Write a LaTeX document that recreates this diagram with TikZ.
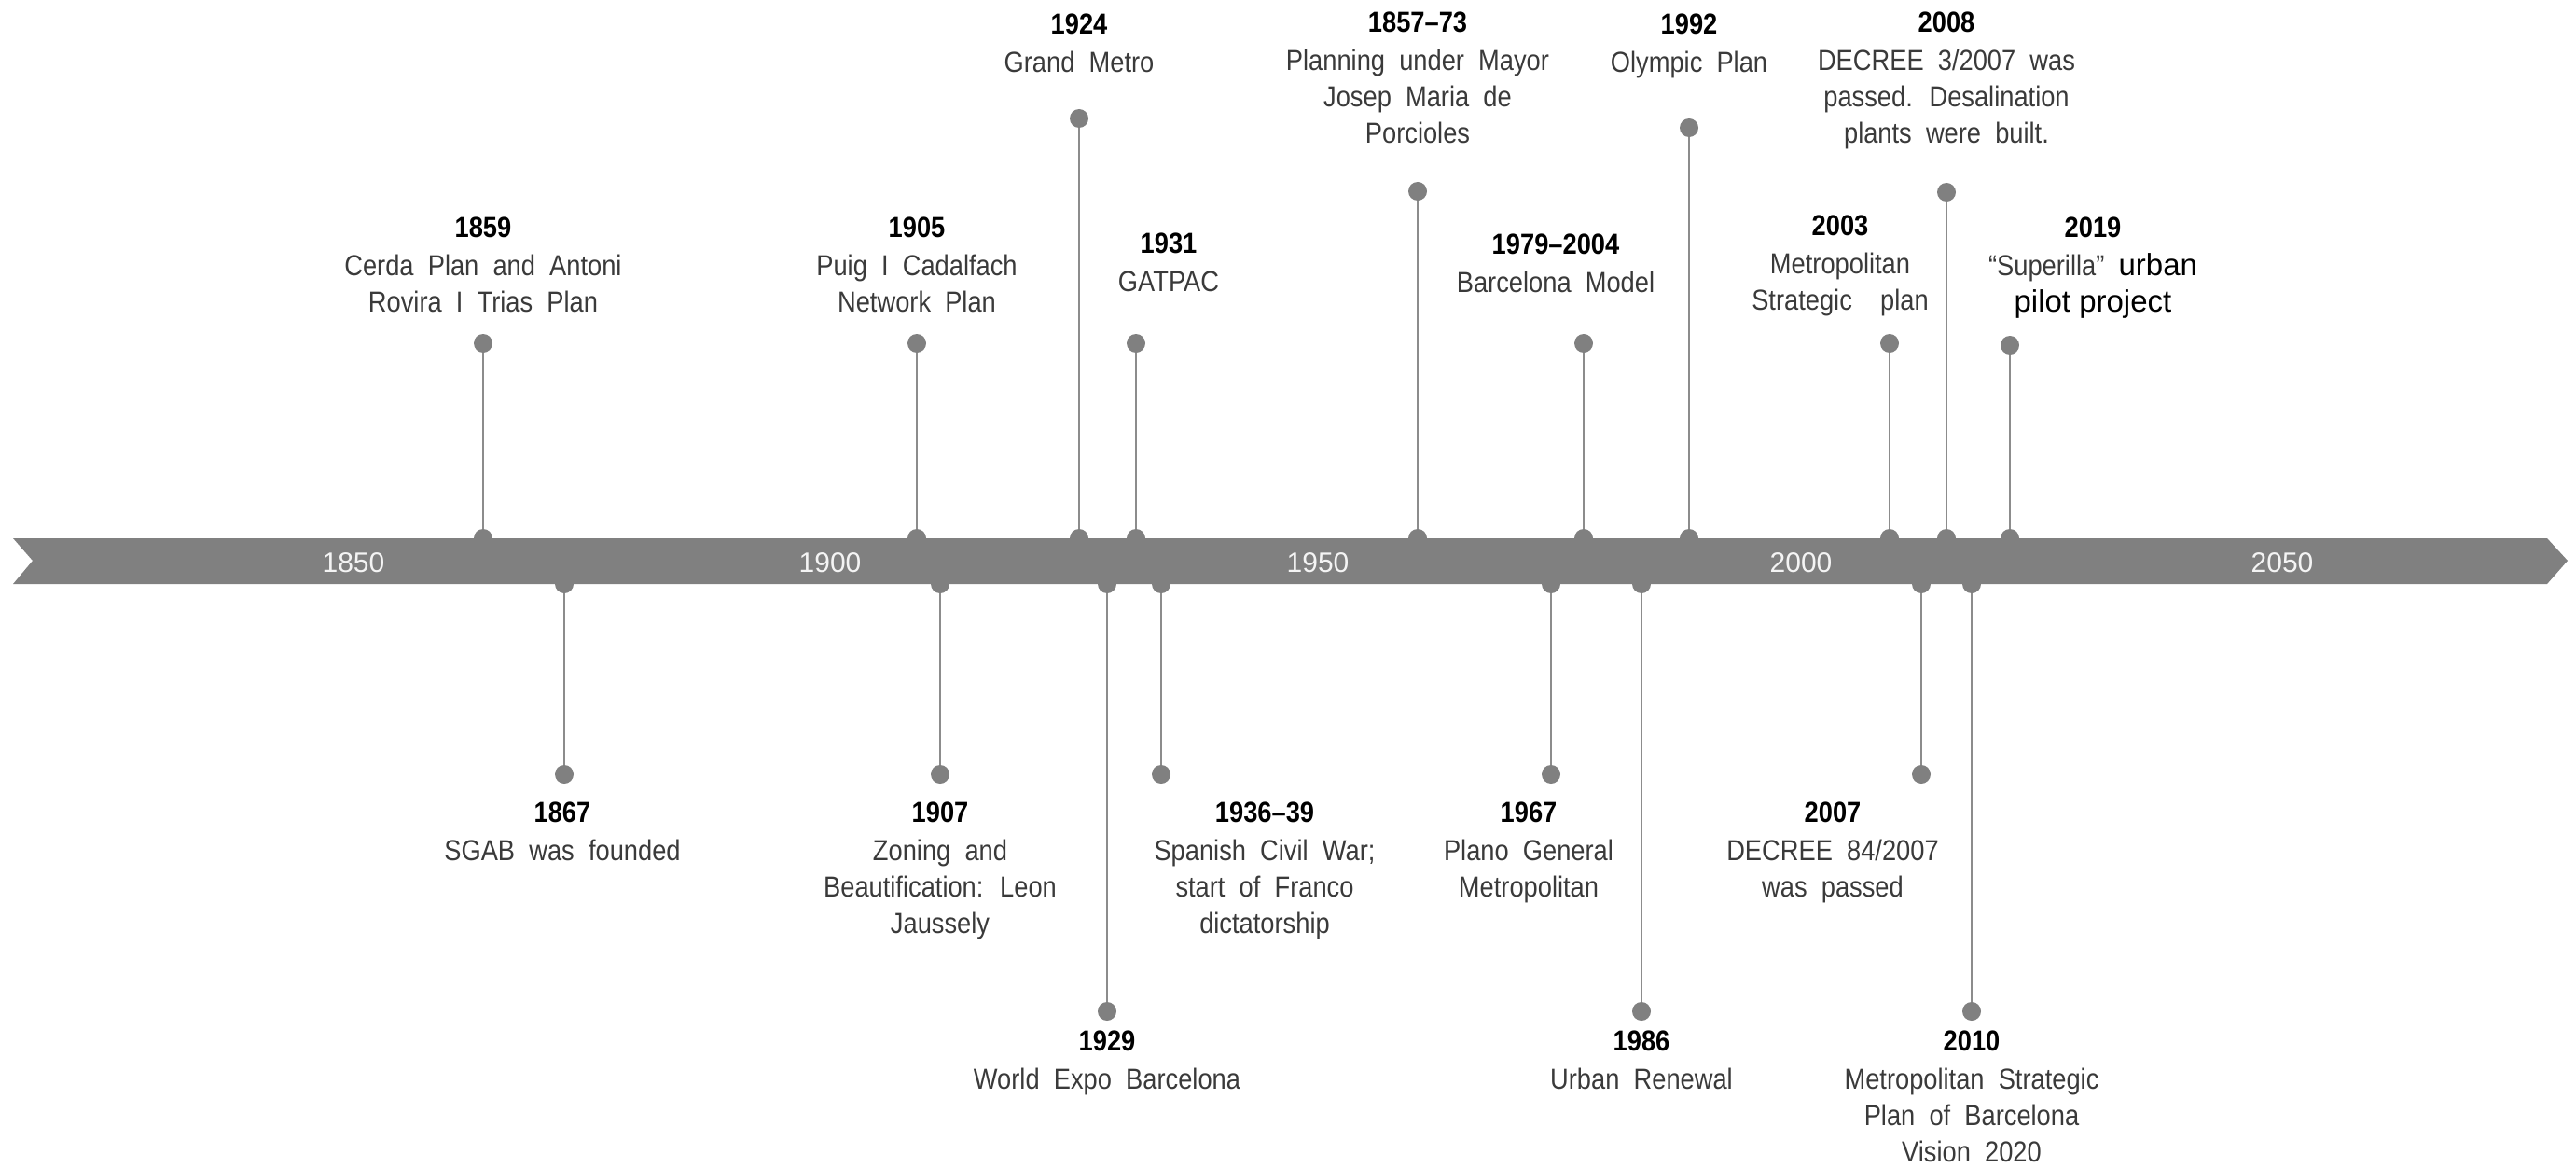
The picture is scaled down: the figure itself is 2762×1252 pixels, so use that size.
\documentclass[tikz,border=0pt]{standalone}
\usepackage{fontspec}
\setmainfont{Liberation Sans}[WordSpace={2.0}, FakeStretch=0.88]
\newfontfamily\bandfont{Liberation Sans}
\definecolor{bandgray}{HTML}{808080}
\definecolor{stemgray}{HTML}{8C8C8C}
\definecolor{descgray}{HTML}{3A3A3A}
\definecolor{bandtext}{HTML}{F4F4F4}
\tikzset{
  dot/.style={circle, fill=bandgray, inner sep=0pt, minimum size=20pt},
  stemline/.style={draw=stemgray, line width=2.6pt},
  evt/.style={align=center, inner sep=0pt, anchor=north, text=descgray,
              font=\fontsize{31}{39}\selectfont},
  bandlbl/.style={inner sep=0pt, text=bandtext, font=\bandfont\fontsize{30}{36}\selectfont}
}
\newcommand{\yr}[1]{{\bfseries\color{black}#1}\\[2pt]}
\newcommand{\bigtxt}[1]{{\color{black}\bandfont\fontsize{33}{39}\selectfont #1}}
\begin{document}
\begin{tikzpicture}[x=1pt,y=-1pt]
\useasboundingbox (0,0) rectangle (2762,1252);
% band
\fill[bandgray] (14,577) -- (2731,577) -- (2753,601) -- (2731,626) -- (14,626) -- (35,601) -- cycle;
\node[bandlbl] (y1850) at (379,603) {1850};
\node[bandlbl] (y1900) at (890,603) {1900};
\node[bandlbl] (y1950) at (1413,603) {1950};
\node[bandlbl] (y2000) at (1931,603) {2000};
\node[bandlbl] (y2050) at (2447,603) {2050};

% ---- top events ----
\foreach \n/\x/\y in {a/518/368, b/983/368, c/1157/127, d/1218/368, e/1520/205,
                      f/1698/368, g/1811/137, h/2026/368, i/2087/206, j/2155/370}{
  \node[dot] (t\n) at (\x,\y) {};
  \node[dot] (e\n) at (\x,577) {};
  \draw[stemline] (t\n) -- (e\n);
}
% ---- bottom events ----
\foreach \n/\x/\y in {k/605/830, l/1008/830, m/1187/1084, n/1245/830,
                      o/1663/830, p/1760/1084, q/2060/830, r/2114/1084}{
  \node[dot] (t\n) at (\x,\y) {};
  \node[dot] (e\n) at (\x,626) {};
  \draw[stemline] (e\n) -- (t\n);
}

% ---- top labels ----
\node[evt] (la) at (518,233) {\yr{1859}Cerda Plan and Antoni\\Rovira I Trias Plan};
\node[evt] (lb) at (983,233) {\yr{1905}Puig I Cadalfach\\Network Plan};
\node[evt] (lc) at (1157,15) {\yr{1924}Grand Metro};
\node[evt] (ld) at (1253,250) {\yr{1931}GATPAC};
\node[evt] (le) at (1520,13) {\yr{1857–73}Planning under Mayor\\Josep Maria de\\Porcioles};
\node[evt] (lf) at (1668,251) {\yr{1979–2004}Barcelona Model};
\node[evt] (lg) at (1811,15) {\yr{1992}Olympic Plan};
\node[evt] (lh) at (1973,231) {\yr{2003}Metropolitan\\Strategic\ \ plan};
\node[evt] (li) at (2087,13) {\yr{2008}DECREE 3/2007 was\\passed. Desalination\\plants were built.};
\node[evt] (lj) at (2244,233) {\yr{2019}“Superilla” \bigtxt{urban}\\\bigtxt{pilot project}};

% ---- bottom labels ----
\node[evt] (lk) at (603,860) {\yr{1867}SGAB was founded};
\node[evt] (ll) at (1008,860) {\yr{1907}Zoning and\\Beautification: Leon\\Jaussely};
\node[evt] (lm) at (1187,1105) {\yr{1929}World Expo Barcelona};
\node[evt] (ln) at (1356,860) {\yr{1936–39}Spanish Civil War;\\start of Franco\\dictatorship};
\node[evt] (lo) at (1639,860) {\yr{1967}Plano General\\Metropolitan};
\node[evt] (lp) at (1760,1105) {\yr{1986}Urban Renewal};
\node[evt] (lq) at (1965,860) {\yr{2007}DECREE 84/2007\\was passed};
\node[evt] (lr) at (2114,1105) {\yr{2010}Metropolitan Strategic\\Plan of Barcelona\\Vision 2020};
\end{tikzpicture}
\end{document}
